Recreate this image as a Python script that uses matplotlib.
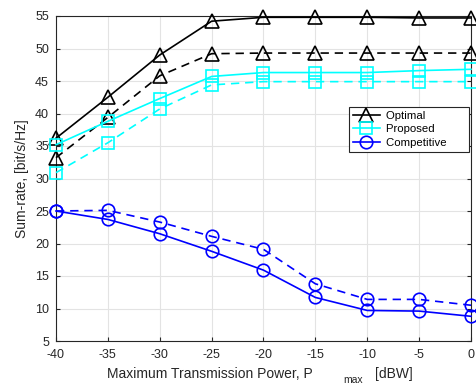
import matplotlib
matplotlib.use("Agg")
import matplotlib.pyplot as plt

plt.rcParams['font.family'] = ['Liberation Sans', 'DejaVu Sans']
plt.rcParams['axes.unicode_minus'] = False

# transmit power levels (dBW)
p_max = [-40, -35, -30, -25, -20, -15, -10, -5, 0]

# sum-rate values, solid and dashed variants
optimal_solid = [36.2, 42.5, 49.0, 54.2, 54.8, 54.8, 54.8, 54.7, 54.7]
optimal_dash = [33.2, 39.4, 45.8, 49.2, 49.3, 49.3, 49.3, 49.3, 49.3]
proposed_solid = [35.2, 38.8, 42.3, 45.7, 46.3, 46.3, 46.3, 46.6, 46.8]
proposed_dash = [30.9, 35.5, 40.7, 44.4, 44.9, 44.9, 44.9, 44.9, 44.9]
competitive_solid = [25.0, 23.7, 21.5, 18.8, 15.9, 11.7, 9.7, 9.6, 8.8]
competitive_dash = [25.0, 25.1, 23.3, 21.1, 19.1, 13.8, 11.4, 11.4, 10.5]

labels = ['Optimal', 'Proposed', 'Competitive']
x_ticks = [-40, -35, -30, -25, -20, -15, -10, -5, 0]
y_ticks = [5, 10, 15, 20, 25, 30, 35, 40, 45, 50, 55]

W, H = 477, 385
fig = plt.figure(figsize=(W / 100, H / 100), dpi=100)
ax = fig.add_axes([56 / W, 1 - 341 / H, 415 / W, 325 / H])

styles = [
    (optimal_solid, optimal_dash, 'k', '^', 10),
    (proposed_solid, proposed_dash, '#00ffff', 's', 8),
    (competitive_solid, competitive_dash, '#0000ff', 'o', 9),
]
for (solid, dash, color, marker, ms), label in zip(styles, labels):
    ax.plot(p_max, solid, '-', color=color, marker=marker, markersize=ms,
            markerfacecolor='none', markeredgewidth=1.2, linewidth=1.2,
            clip_on=False, label=label + '      ', zorder=3)
    ax.plot(p_max, dash, '--', color=color, marker=marker, markersize=ms,
            markerfacecolor='none', markeredgewidth=1.2, linewidth=1.2,
            dashes=(5, 3.5), clip_on=False, zorder=3)

ax.set_xlim(-40, 0)
ax.set_ylim(5, 55)
ax.set_xticks(x_ticks)
ax.set_yticks(y_ticks)
ax.grid(True, color='#e3e3e3', linewidth=0.8)
ax.set_axisbelow(True)
ax.tick_params(direction='in', length=3, labelsize=9, colors='#262626',
               top=False, right=True)
ax.tick_params(axis='x', pad=6)
ax.tick_params(axis='y', pad=5)
for sp in ax.spines.values():
    sp.set_color('#262626')
    sp.set_linewidth(0.8)

ax.set_ylabel('Sum-rate, [bit/s/Hz]', fontsize=10, color='#262626', labelpad=4)

# x label with the awkwardly placed subscript
fig.text(107 / W, 1 - 378 / H, 'Maximum Transmission Power, P', fontsize=10,
         color='#262626', ha='left', va='baseline')
fig.text(343 / W, 1 - 383 / H, 'max', fontsize=7.5, color='#262626',
         ha='left', va='baseline')
fig.text(375 / W, 1 - 378 / H, '[dBW]', fontsize=10, color='#262626',
         ha='left', va='baseline')

leg = ax.legend(loc='upper right', bbox_to_anchor=(0.995, 0.72), fontsize=8.2,
                fancybox=False, framealpha=1, edgecolor='#262626',
                handlelength=2.4, handletextpad=0.5, borderpad=0.35,
                labelspacing=0.3, borderaxespad=0)
leg.get_frame().set_linewidth(0.8)

fig.savefig('out.png', dpi=100)
